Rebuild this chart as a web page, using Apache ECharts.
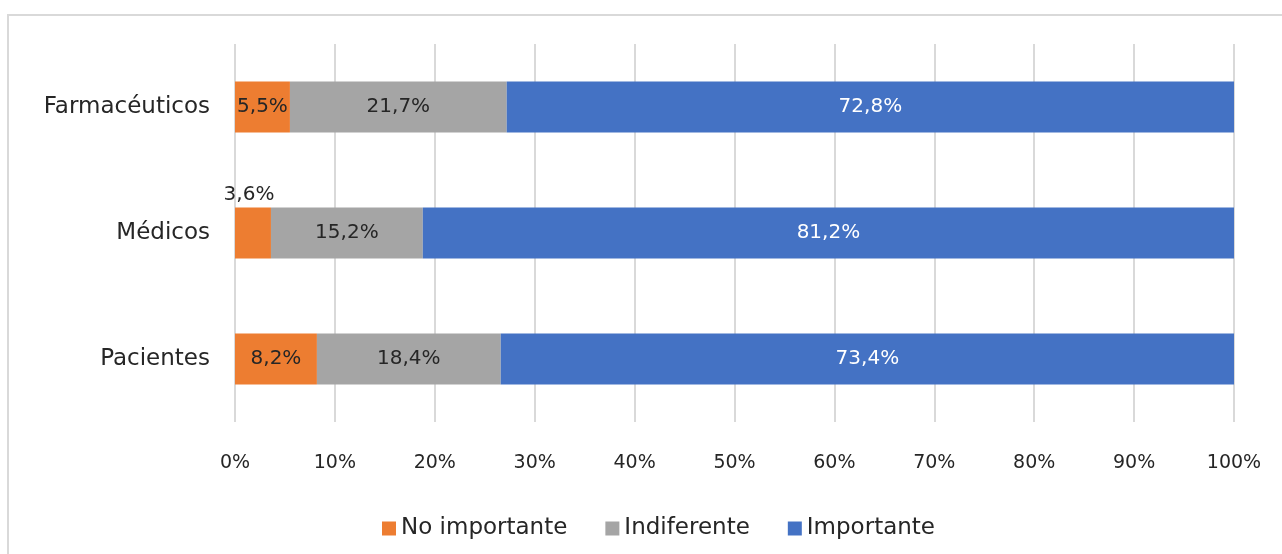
<!DOCTYPE html>
<html>
<head>
<meta charset="utf-8">
<script src="https://cdn.jsdelivr.net/npm/echarts@6/dist/echarts.min.js"></script>
<style>
html,body{margin:0;padding:0;background:#fff;}
#chart{width:1282px;height:554px;}
</style>
</head>
<body>
<div id="chart"></div>
<script>
const categories = ['Pacientes', 'Médicos', 'Farmacéuticos'];
const noImportante = [8.2, 3.6, 5.5];
const indiferente = [18.4, 15.2, 21.7];
const importante = [73.4, 81.2, 72.8];
const xTicks = [0, 10, 20, 30, 40, 50, 60, 70, 80, 90, 100];

const FONT = 'DejaVu Sans';
const fmt = v => v.toFixed(1).replace('.', ',') + '%';

const chart = echarts.init(document.getElementById('chart'), null, {renderer: 'canvas'});

function labelCfg(color) {
  return {show: true, position: 'inside', color: color, fontFamily: FONT, fontSize: 20,
    formatter: p => fmt(p.value)};
}

chart.setOption({
  animation: false,
  backgroundColor: '#fff',
  textStyle: {fontFamily: FONT},
  graphic: [{
    type: 'rect', shape: {x: 8, y: 15, width: 1400, height: 700},
    style: {fill: 'none', stroke: '#d9d9d9', lineWidth: 2}, z: -10
  }],
  legend: {
    bottom: 9, left: 377, itemWidth: 14, itemHeight: 14, itemGap: 38,
    icon: 'rect',
    textStyle: {fontFamily: FONT, fontSize: 23, color: '#262626'},
    data: ['No importante', 'Indiferente', 'Importante']
  },
  grid: {left: 235, right: 48, top: 44, height: 378, containLabel: false},
  xAxis: {
    type: 'value', min: 0, max: 100, interval: 10,
    axisLine: {show: false}, axisTick: {show: false},
    splitLine: {show: true, lineStyle: {color: '#d9d9d9', width: 2}},
    axisLabel: {margin: 32, color: '#262626', fontFamily: FONT, fontSize: 19,
      formatter: v => xTicks.includes(v) ? v + '%' : ''}
  },
  yAxis: {
    type: 'category', data: categories,
    axisLine: {show: false}, axisTick: {show: false},
    axisLabel: {margin: 25, color: '#262626', fontFamily: FONT, fontSize: 23}
  },
  series: [
    {name: 'No importante', type: 'bar', stack: 't', barWidth: 51,
     itemStyle: {color: '#ED7D31'},
     label: labelCfg('#262626'),
     data: noImportante.map((v, i) => categories[i] === 'Médicos'
       ? {value: v, label: {position: 'top', distance: 3, offset: [-4, 0]}} : v)},
    {name: 'Indiferente', type: 'bar', stack: 't', barWidth: 51,
     itemStyle: {color: '#A5A5A5'},
     label: labelCfg('#262626'), data: indiferente},
    {name: 'Importante', type: 'bar', stack: 't', barWidth: 51,
     itemStyle: {color: '#4472C4'},
     label: labelCfg('#ffffff'), data: importante}
  ]
});
</script>
</body>
</html>
